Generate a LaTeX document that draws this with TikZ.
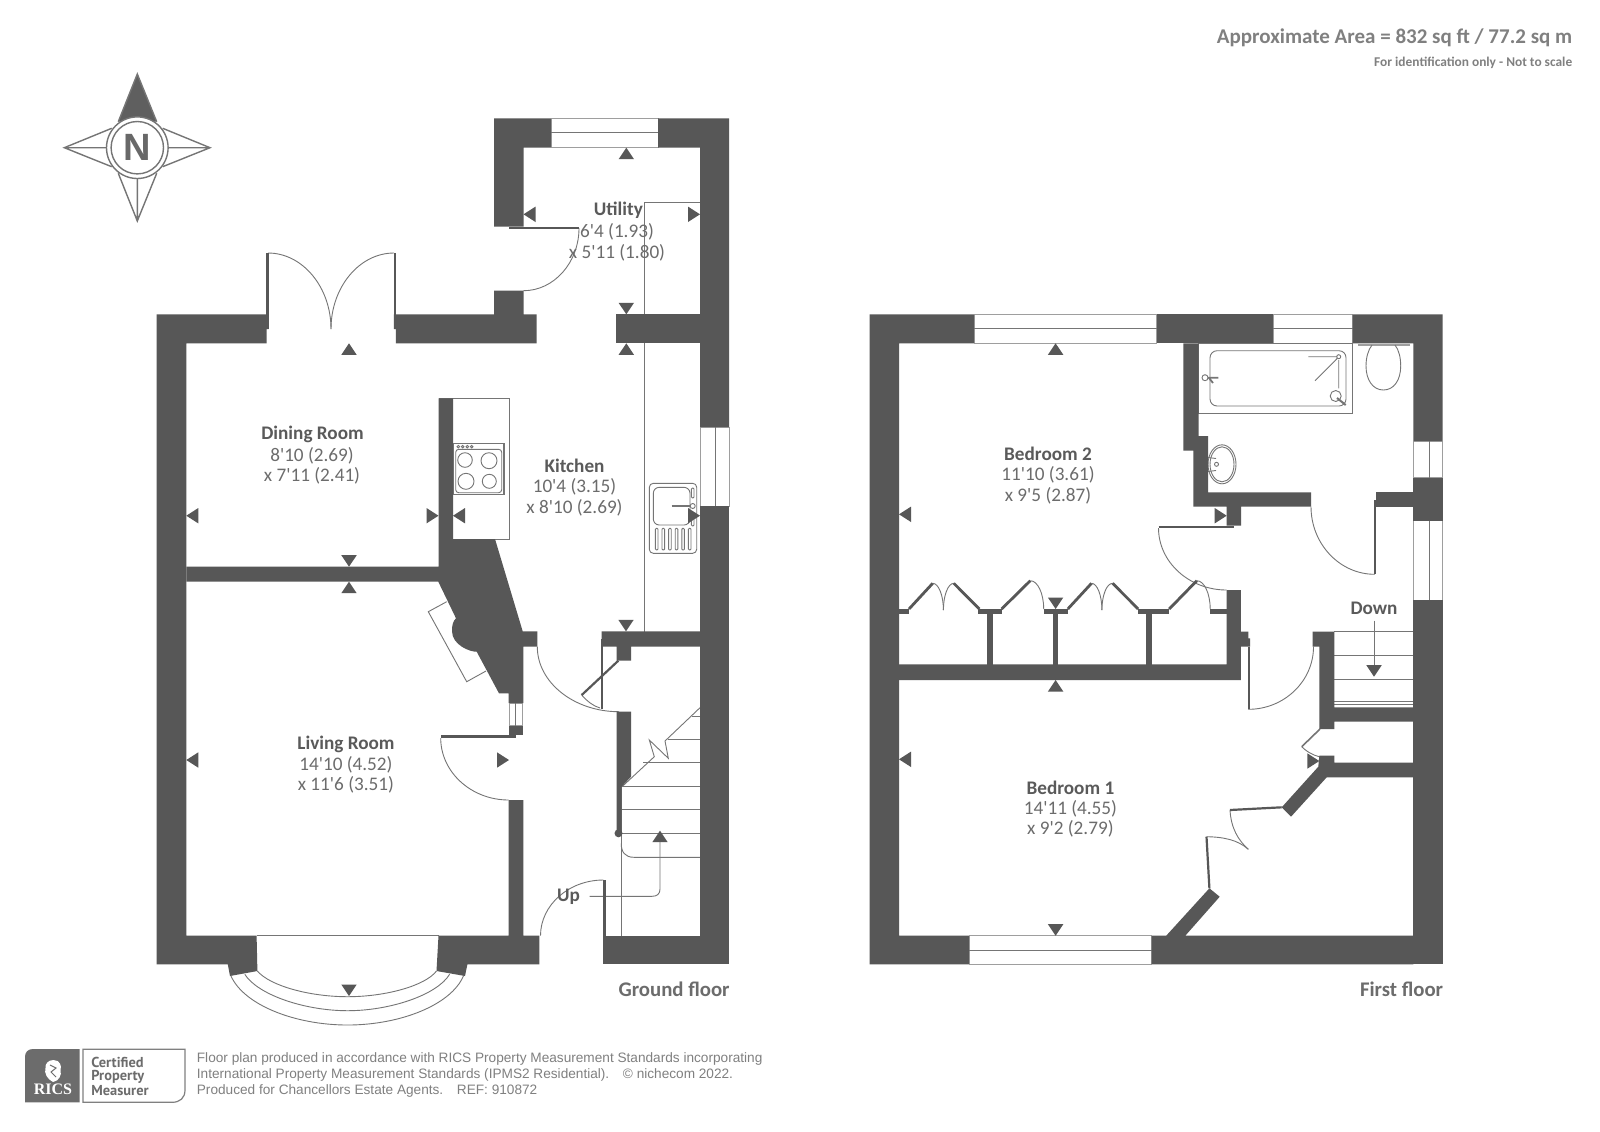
\documentclass[tikz,border=0pt]{standalone}
\usepackage{fontspec}
\setmainfont[Ligatures=TeXOff]{Carlito}
\newfontfamily\arialf{Liberation Sans}
\newfontfamily\certf{PT Sans}
\newfontfamily\ricsf{Liberation Serif}
\definecolor{wallc}{HTML}{575757}
\definecolor{linec}{HTML}{757575}
\definecolor{titlec}{HTML}{5A5A5A}
\definecolor{dimc}{HTML}{6C6C6C}
\definecolor{notec}{HTML}{808080}
\tikzset{
  wall/.style={fill=wallc,draw=none},
  thinl/.style={draw=linec,line width=0.45pt,fill=none},
  heavyl/.style={draw=wallc,line width=1.1pt,line cap=butt},
  winbox/.style={draw=linec!70!white,line width=0.5pt,fill=white},
  rname/.style={inner sep=0pt,yshift=-0.7pt,text=titlec,font=\fontsize{9.6}{11}\selectfont\bfseries},
  rdim/.style={inner sep=0pt,yshift=-0.7pt,text=dimc,font=\fontsize{9.6}{11}\selectfont},
  floorname/.style={inner sep=0pt,text=dimc,font=\fontsize{10.4}{12}\selectfont\bfseries},
  notetxt/.style={inner sep=0pt,anchor=west,yshift=-0.7pt,text=notec,font=\arialf\fontsize{6.82}{8}\selectfont},
  certtxt/.style={inner sep=0pt,anchor=west,text=dimc,font=\certf\fontsize{7.2}{8}\selectfont\bfseries},
}
\newcommand\mkU[2]{\fill[wall] (#1,#2) -- +(-7.7,11.5) -- +(7.7,11.5) -- cycle;}
\newcommand\mkD[2]{\fill[wall] (#1,#2) -- +(-7.7,-11.5) -- +(7.7,-11.5) -- cycle;}
\newcommand\mkL[2]{\fill[wall] (#1,#2) -- +(12,-7.7) -- +(12,7.7) -- cycle;}
\newcommand\mkR[2]{\fill[wall] (#1,#2) -- +(-12,-7.7) -- +(-12,7.7) -- cycle;}
\newcommand\arcvh[4]{\pgfmathsetmacro\cpa{#2+0.55*(#4-#2)}\pgfmathsetmacro\cpb{#3+0.55*(#1-#3)}\draw[thinl] (#1,#2) .. controls (#1,\cpa) and (\cpb,#4) .. (#3,#4);}
\begin{document}
\begin{tikzpicture}[x=0.5pt,y=-0.5pt]
\useasboundingbox (0,0) rectangle (1600,1131);
\fill[white] (0,0) rectangle (1600,1131);

% ---------- compass
\fill[wallc!95!white] (137.3,74) -- (118.3,121.7) -- (156.7,121.7) -- cycle;
\draw[thinl,line width=0.7pt,line join=miter]
  (118.3,121.7) -- (137.3,74) -- (156.7,121.7)
  (162.7,128.3) -- (210,147.7) -- (162.7,166.7)
  (156.7,173.3) -- (137.3,221) -- (118.3,173.3)
  (111.7,166.7) -- (64.3,147.7) -- (111.7,128.3)
  (64.3,147.7) -- (107,147.7) (168,147.7) -- (210,147.7) (137.3,178) -- (137.3,221);
\draw[thinl,line width=0.7pt,fill=white] (137.3,147.7) circle[radius=30.8];
\draw[thinl,line width=0.7pt] (137.3,147.7) circle[radius=26.2];
\node[inner sep=0pt,text=wallc!90!white,font=\arialf\fontsize{19}{20}\selectfont\bfseries] (compassN) at (137.3,147.7) {N};

% ---------- ground floor : thin lines
\draw[thinl] (644,314) -- (644,202) -- (700,202);
\draw[thinl] (644,343) -- (644,632);
\draw[winbox] (551.2,118.3) rectangle (658,147.7);
\draw[thinl] (551.2,132.3) -- (658,132.3);
\draw[winbox] (700,427) rectangle (729.2,506);
\draw[thinl] (715.7,427) -- (715.7,506);
\draw[winbox] (509,703) rectangle (522.7,725.7);
\draw[thinl] (515,703) -- (515,725.7);
% worktop and hob
\draw[thinl] (438.5,398.3) -- (509.3,398.3) -- (509.3,539) -- (453,539);
\draw[thinl,line width=0.6pt] (453,443.3) rectangle (504,494.7);
\draw[thinl,rounded corners=1.5pt] (455.7,449.3) rectangle (501.7,492.7);
\draw[thinl] (465,460) circle[radius=7.3] (489,460.7) circle[radius=8] (466,481.3) circle[radius=8] (489.3,481.3) circle[radius=7];
\draw[thinl] (458.3,446.7) circle[radius=1.3] (462.7,446.7) circle[radius=1.3] (467.3,446.7) circle[radius=1.3] (471.7,446.7) circle[radius=1.3];
% sink
\draw[thinl,rounded corners=2pt] (649.3,483.3) rectangle (696.7,553.3);
\draw[thinl,rounded corners=3pt] (653.3,487.3) rectangle (690,525);
\draw[draw=linec,line width=0.9pt] (671.7,506) -- (691,506);
\draw[thinl,fill=white] (692.7,506) circle[radius=2.5];
\draw[thinl,rounded corners=0.5pt] (691.4,488) rectangle (694,498);
\draw[thinl,rounded corners=0.5pt] (691.4,514) rectangle (694,526);
\foreach \xx in {656.7,663.3,669.9,676.5,683.1,689.7}{\draw[thinl,rounded corners=0.5pt] (\xx-1.3,528.3) rectangle (\xx+1.3,550);}
% chimney hearth
\draw[thinl] (446.7,601.7) -- (428.3,611.7) -- (466.7,681.7) -- (486,671);
% stairs
\foreach \yy/\xx in {716.7/691.7,739.3/668,762.7/643,786.7/621.7,809.3/621.7,833.3/621.7}{\draw[thinl] (\xx,\yy) -- (700,\yy);}
\draw[thinl] (700,707.7) -- (665,741) -- (668.3,758.3) -- (649.3,740) -- (654.3,756.7) -- (622,786.7);
\draw[thinl] (621.2,786) -- (621.2,935.7);
\draw[thinl] (621.2,843.3) .. controls (621.2,852) and (625,857.3) .. (634,857.3) -- (700,857.3);
\draw[thinl] (589.6,896.3) -- (652,896.3) .. controls (657,896.3) and (660,894) .. (660,889) -- (660,840);
\mkU{660}{830.7}
\fill[wall] (618.5,833.3) circle[radius=4];
% ground floor doors
\arcvh{579}{228}{523.5}{290.7}
\arcvh{331}{329}{268}{253}
\arcvh{331}{329}{394}{253}
\arcvh{440.7}{738}{508.7}{800}
\arcvh{537.3}{646.7}{619}{711.7}
\arcvh{540.5}{935.7}{603.4}{880}
\draw[thinl] (581.7,695) .. controls (587,701) and (593,706) .. (600,708);
\draw[heavyl] (618.3,660.7) -- (581.7,695);
\draw[heavyl] (601.7,639) -- (601.7,709);
\draw[heavyl] (604.4,880) -- (604.4,964);
\draw[heavyl] (509,227.6) -- (579,227.6);
\draw[heavyl] (441,736.5) -- (516,736.5);
\draw[heavyl] (267.5,253) -- (267.5,329);
\draw[heavyl] (394.8,253) -- (394.8,329);
% bay window
\draw[thinl] (256.6,935.7) -- (438.5,935.7);
\draw[thinl] (257.4,971) .. controls (270,986) and (310,996.7) .. (347.6,996.7) .. controls (385,996.7) and (425,986) .. (436.5,971);
\draw[thinl] (244.8,974.3) .. controls (258,995) and (305,1010.7) .. (347.6,1010.7) .. controls (390,1010.7) and (437,995) .. (449.6,974.3);
\draw[thinl] (231,976) .. controls (244,1005) and (295,1025) .. (347.6,1025) .. controls (400,1025) and (451,1005) .. (463.4,976);

% ---------- ground floor : walls
\fill[wall] (494,118.3) -- (551.2,118.3) -- (551.2,147.7) -- (523.5,147.7) -- (523.5,226.7) -- (494,226.7) -- cycle;
\fill[wall] (658,118.3) -- (729.2,118.3) -- (729.2,427) -- (700,427) -- (700,147.7) -- (658,147.7) -- cycle;
\fill[wall] (700,506) rectangle (729.2,964.3);
% main west and north walls
\fill[wall] (156.6,314.3) -- (268.5,314.3) -- (268.5,329) -- (266.5,329) -- (266.5,343.3) -- (186.3,343.3) -- (186.3,935.7) -- (256.6,935.7) -- (257.4,971) -- (230,976) -- (227.8,964.3) -- (156.6,964.3) -- cycle;
\fill[wall] (393.8,314.3) -- (494,314.3) -- (494,290.7) -- (523.5,290.7) -- (523.5,314.3) -- (536.6,314.3) -- (536.6,343.3) -- (395.8,343.3) -- (395.8,329) -- (393.8,329) -- cycle;
\fill[wall] (615.7,314.3) -- (700,314.3) -- (700,343.3) -- (615.7,343.3) -- cycle;
% dining/living partition and chimney
\fill[wall] (186.3,566.7) -- (438.5,566.7) -- (438.5,398.3) -- (453,398.3) -- (453,539) -- (495,539) -- (522.7,631.3) -- (537.3,631.3) -- (537.3,646.7) -- (523.3,646.7) -- (523.3,703) -- (508.7,703) -- (508.7,693.3) -- (499,693.3) -- (476.7,651.7)
  .. controls (470,652) and (452,645) .. (452,631) .. controls (452,625) and (453,621) .. (456,618.3)
  -- (438.3,581.7) -- (186.3,581.7) -- cycle;
\fill[wall] (508.7,725.7) rectangle (523.3,735);
\fill[wall] (508.7,800) -- (523.3,800) -- (523.3,935.7) -- (539.4,935.7) -- (539.4,964.3) -- (467.4,964.3) -- (465,976) -- (436.5,971) -- (438.5,935.7) -- (508.7,935.7) -- cycle;
\fill[wall] (603.4,935.7) -- (700,935.7) -- (700,964.3) -- (603.4,964.3) -- cycle;
% hall partition and stair wall
\fill[wall] (601.7,631.3) -- (700,631.3) -- (700,646.7) -- (631,646.7) -- (631,660.7) -- (616.7,660.7) -- (616.7,646.7) -- (601.7,646.7) -- cycle;
\fill[wall] (616.7,711.7) -- (631,711.7) -- (631,776.7) -- (621.7,786.7) -- (621.7,833) -- (616.7,833) -- cycle;
% ground floor markers
\mkU{626.3}{147.7}\mkL{523.5}{214.3}\mkR{700}{214.3}\mkD{626.3}{314.3}\mkU{626.3}{343.3}
\mkU{349}{343.3}\mkL{186.3}{515.7}\mkR{438.5}{515.7}\mkL{453}{515.7}\mkR{700}{515.7}
\mkD{349}{566.7}\mkU{349}{581.7}\mkD{626}{631.3}\mkL{186.3}{760}\mkR{509}{760}\mkD{349}{996}

% ---------- first floor : thin lines
\draw[winbox] (974,314.3) rectangle (1156.6,343.3);
\draw[thinl] (974,328.3) -- (1156.6,328.3);
\draw[winbox] (1273.3,314.3) rectangle (1352.5,343.3);
\draw[thinl] (1273.3,328.3) -- (1352.5,328.3);
\draw[winbox] (969,935.7) rectangle (1151.6,964.3);
\draw[thinl] (969,950) -- (1151.6,950);
\draw[winbox] (1413.4,441) rectangle (1442.5,477.7);
\draw[thinl] (1429,441) -- (1429,477.7);
\draw[winbox] (1413.4,520.7) rectangle (1442.5,600);
\draw[thinl] (1429,520.7) -- (1429,600);
% bath
\draw[thinl,line width=0.6pt] (1198.7,343.3) rectangle (1352.7,413.3);
\draw[thinl,rounded corners=3.5pt] (1210,350.7) rectangle (1346,406);
\draw[thinl] (1308.3,356.7) -- (1336.7,356.7) (1315,380.7) -- (1337.3,358.3) (1338.7,360) -- (1338.7,388.3);
\draw[thinl] (1338.7,356.7) circle[radius=2];
\draw[thinl,fill=white] (1335.7,396) circle[radius=5.5];
\draw[thinl,line width=1pt] (1337,398) -- (1345.7,405);
\draw[thinl,fill=white] (1205,377.7) circle[radius=3];
\draw[thinl,line width=0.9pt] (1208,377.7) -- (1218.3,377.7) (1209,378) -- (1213,383);
% toilet
\draw[thinl,line width=0.9pt,draw=linec!70!white] (1358.3,344.6) -- (1410,344.6);
\draw[thinl] (1372,345) .. controls (1368,350) and (1366,358) .. (1366,366) .. controls (1366,380) and (1373,390) .. (1383.3,390) .. controls (1394,390) and (1400.7,380) .. (1400.7,366) .. controls (1400.7,358) and (1399,350) .. (1395,345);
% basin
\draw[thinl] (1222,464.3) ellipse[x radius=14,y radius=19.5];
\draw[thinl] (1222,464.3) ellipse[x radius=12,y radius=17.5];
\draw[thinl] (1208,457.5) -- (1216,458.5) (1208,471.5) -- (1216,470.5);
\draw[thinl] (1216.5,464.3) circle[radius=2];
% stairs
\foreach \yy in {631.7,655.7,679.3,701.7,704}{\draw[thinl] (1334.3,\yy) -- (1413.4,\yy);}
\draw[thinl] (1374,620.7) -- (1374,666);
\mkD{1374}{676.7}
% first floor doors
\arcvh{1158.5}{528}{1226.6}{590}
\arcvh{1311}{506.7}{1374.7}{574.3}
\arcvh{1313.5}{646.7}{1248.4}{709.3}
\arcvh{943.4}{610}{932.7}{583.3}
\arcvh{943.4}{610}{953.8}{583.3}
\arcvh{1043.7}{609}{1030.3}{580.7}
\arcvh{1101.9}{610}{1091.5}{583.3}
\arcvh{1101.9}{610}{1112.6}{583.3}
\arcvh{1210.2}{609}{1196.8}{580.7}
\draw[thinl] (1230,810) .. controls (1231,828) and (1238,840) .. (1248.3,849.3);
\draw[thinl] (1206.7,836.7) .. controls (1224,837) and (1238,840) .. (1248.3,849.3);
\draw[thinl] (1301.7,746.7) .. controls (1306,751) and (1312,755) .. (1319.3,756.7);
\draw[thinl,line width=0.8pt] (1320,729) -- (1301.7,746.7);
\draw[heavyl] (1158.5,526.8) -- (1234.3,526.8);
\draw[heavyl] (1374.7,500) -- (1374.7,574.3);
\draw[heavyl] (1248.6,646.7) -- (1248.6,709.3);
\draw[heavyl] (1230,810) -- (1281.7,807.3);
\draw[heavyl] (1206.5,836.7) -- (1209.4,888.3);
\foreach \ax/\ay/\bx/\by in {909/609/932.7/583.3,953.8/583.3/979.4/609,1001.6/609/1030.3/580.7,1067.8/609/1091.5/583.3,1112.6/583.3/1138.2/609,1169.2/609/1196.8/580.7}{\draw[heavyl,line width=1.4pt] (\ax,\ay) -- (\bx,\by);}

% ---------- first floor : walls
\fill[wall] (869.6,314.3) -- (974,314.3) -- (974,343.3) -- (899,343.3) -- (899,935.7) -- (969,935.7) -- (969,964.3) -- (869.6,964.3) -- cycle;
\fill[wall] (1156.6,314.3) rectangle (1273.3,343.3);
\fill[wall] (1352.5,314.3) -- (1442.5,314.3) -- (1442.5,441) -- (1413.4,441) -- (1413.4,343.3) -- (1352.5,343.3) -- cycle;
\fill[wall] (1413.4,477.7) rectangle (1442.5,520.7);
\fill[wall] (1413.4,600) rectangle (1442.5,964.3);
\fill[wall] (1151.6,935.7) -- (1166.2,935.7) -- (1209.4,888.3) -- (1219.7,896.7) -- (1185.3,935.7) -- (1413.4,935.7) -- (1413.4,964.3) -- (1151.6,964.3) -- cycle;
% bathroom walls
\fill[wall] (1183.3,343.3) -- (1198.7,343.3) -- (1198.7,436) -- (1208,436) -- (1208,492.3) -- (1311,492.3) -- (1311,506.7) -- (1241,506.7) -- (1241,525.7) -- (1226.7,525.7) -- (1226.7,506.7) -- (1193.3,506.7) -- (1193.3,450.7) -- (1183.3,450.7) -- cycle;
\fill[wall] (1375.7,492.3) -- (1413.4,492.3) -- (1413.4,506.7) -- (1375.7,506.7) -- cycle;
% wardrobes
\fill[wall] (1226.6,590) -- (1240.8,590) -- (1240.8,631.7) -- (1248.4,631.7) -- (1248.4,638.3) -- (1250,638.3) -- (1250,646.7) -- (1240.8,646.7) -- (1240.8,680) -- (899,680) -- (899,664.3) -- (1226.6,664.3) -- cycle;
\fill[wall] (899,609) rectangle (909,614);
\fill[wall] (977.9,609) rectangle (1001.6,614);
\fill[wall] (1043.7,609) rectangle (1067.8,614);
\fill[wall] (1137.5,609) rectangle (1169.2,614);
\fill[wall] (1210.2,609) rectangle (1226.6,614);
\fill[wall] (987.4,612) rectangle (992.8,665);
\fill[wall] (1053.3,612) rectangle (1058.2,665);
\fill[wall] (1146.3,612) rectangle (1152,665);
% stair walls
\fill[wall] (1312.7,631.7) -- (1334.3,631.7) -- (1334.3,707.3) -- (1413.4,707.3) -- (1413.4,721.7) -- (1334.3,721.7) -- (1334.3,729) -- (1319.3,729) -- (1319.3,646.7) -- (1312.7,646.7) -- cycle;
\fill[wall] (1319.3,755.7) -- (1334.3,755.7) -- (1334.3,762.7) -- (1413.4,762.7) -- (1413.4,777.3) -- (1326.7,777.3) -- (1291,816.7) -- (1281.7,807.3) -- (1318.3,766.7) -- cycle;
% first floor markers
\mkU{1055.6}{343.3}\mkL{899}{514.3}\mkR{1226.7}{515.7}\mkD{1055.6}{609}
\mkU{1055.6}{680}\mkL{899}{759.3}\mkD{1055.6}{935.7}\mkR{1319.3}{761}

% ---------- labels
\node[rname] (dinT) at (312.5,432.7) {Dining Room};
\node[rdim] (dinA) at (312,454) {8'10 (2.69)};
\node[rdim] (dinB) at (312,474.5) {x 7'11 (2.41)};
\node[rname] (utiT) at (618.4,209) {Utility};
\node[rdim] (utiA) at (617,230.6) {6'4 (1.93)};
\node[rdim] (utiB) at (617,251) {x 5'11 (1.80)};
\node[rname] (kitT) at (574.5,464) {Kitchen};
\node[rdim] (kitA) at (574.5,485.7) {10'4 (3.15)};
\node[rdim] (kitB) at (574.5,506) {x 8'10 (2.69)};
\node[rname] (livT) at (346,742.9) {Living Room};
\node[rdim] (livA) at (345.9,763.3) {14'10 (4.52)};
\node[rdim] (livB) at (345.9,783.7) {x 11'6 (3.51)};
\node[rname] (be2T) at (1048,452) {Bedroom 2};
\node[rdim] (be2A) at (1048,473.5) {11'10 (3.61)};
\node[rdim] (be2B) at (1048,494) {x 9'5 (2.87)};
\node[rname] (be1T) at (1070.4,786.7) {Bedroom 1};
\node[rdim] (be1A) at (1070.4,807) {14'11 (4.55)};
\node[rdim] (be1B) at (1070.4,827.6) {x 9'2 (2.79)};
\node[rname] (upT) at (568.5,895.7) {Up};
\node[rname] (dnT) at (1374,606.5) {Down};
\node[floorname,anchor=east] (gfT) at (730,989) {Ground floor};
\node[floorname,anchor=east] (ffT) at (1443.5,989) {First floor};
\node[inner sep=0pt,anchor=east,text=notec,font=\fontsize{10.5}{12}\selectfont\bfseries] (areaT) at (1572.6,38.2) {Approximate Area = 832 sq ft / 77.2 sq m};
\node[inner sep=0pt,anchor=east,text=notec,font=\fontsize{6.7}{7}\selectfont\bfseries] (idT) at (1572.6,62.7) {For identification only - Not to scale};

% ---------- RICS block
\fill[dimc] (33,1049) -- (79.6,1049) -- (79.6,1102.3) -- (25,1102.3) -- (25,1057) .. controls (25,1052) and (28,1049) .. (33,1049) -- cycle;
\draw[draw=notec,line width=0.6pt] (83,1049.3) -- (185,1049.3) -- (185,1090) .. controls (185,1098) and (180,1102.3) .. (172,1102.3) -- (83,1102.3) -- cycle;
\fill[white] (53.5,1060) .. controls (60,1060) and (62,1066) .. (60.5,1070) .. controls (62,1075) and (59,1081) .. (53,1082) .. controls (47,1079) and (44,1073) .. (45.5,1068) .. controls (45,1064) and (48,1060) .. (53.5,1060) -- cycle;
\draw[draw=dimc,line width=0.5pt] (50,1065) -- (56,1068) -- (51,1072) -- (56,1077);
\node[inner sep=0pt,text=white,font=\ricsf\fontsize{8}{10}\selectfont\bfseries] (ricsT) at (53,1089) {RICS};
\node[certtxt] (certA) at (91,1062.7) {Certified};
\node[certtxt] (certB) at (91,1076.7) {Property};
\node[certtxt] (certC) at (91,1091) {Measurer};
\node[notetxt] (noteA) at (196.5,1057.7) {Floor plan produced in accordance with RICS Property Measurement Standards incorporating};
\node[notetxt] (noteB) at (196.5,1073.3) {International Property Measurement Standards (IPMS2 Residential).\quad© nichecom 2022.};
\node[notetxt] (noteC) at (196.5,1090) {Produced for Chancellors Estate Agents.\quad REF: 910872};
\end{tikzpicture}
\end{document}
